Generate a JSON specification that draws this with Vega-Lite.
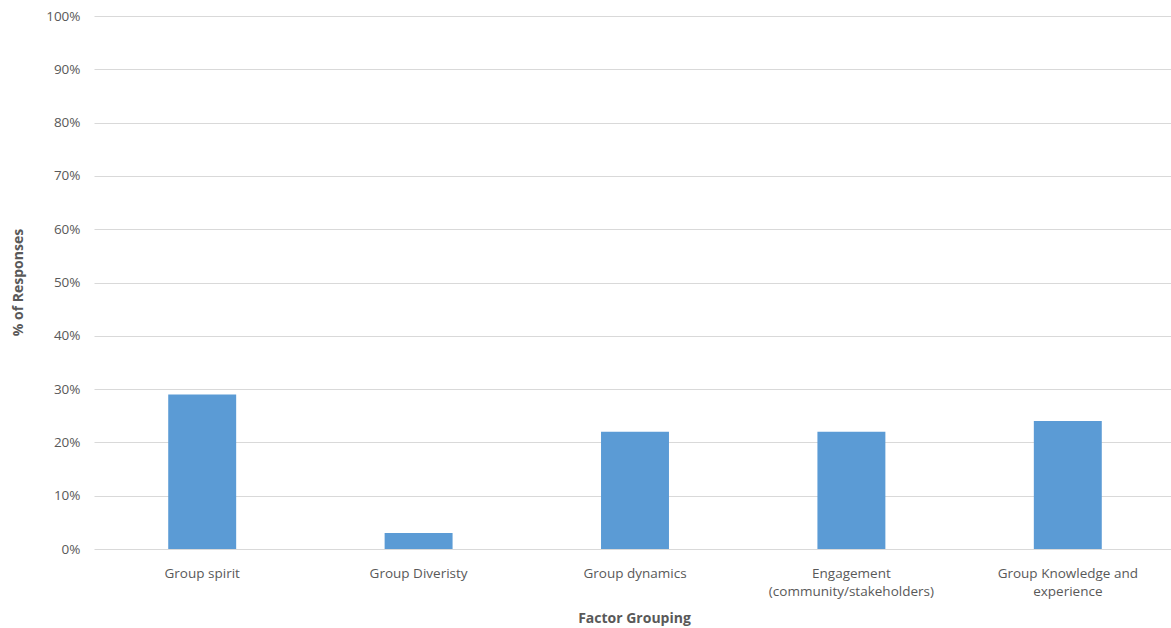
{
  "$schema": "https://vega.github.io/schema/vega-lite/v6.json",
  "autosize": {"type": "none"},
  "width": 1082,
  "height": 533,
  "padding": {"left": 94, "top": 16, "right": 0, "bottom": 79},
  "background": "white",
  "config": {"view": {"stroke": null}, "font": "Open Sans"},
  "data": {
    "values": [
      {"group": "Group spirit", "pct": 0.29},
      {"group": "Group Diveristy", "pct": 0.03},
      {"group": "Group dynamics", "pct": 0.22},
      {"group": "Engagement (community/stakeholders)", "pct": 0.22},
      {"group": "Group Knowledge and experience", "pct": 0.24}
    ]
  },
  "mark": {"type": "bar", "color": "#5b9bd5"},
  "encoding": {
    "x": {
      "field": "group",
      "type": "nominal",
      "sort": null,
      "scale": {"paddingInner": 0.686, "paddingOuter": 0.343},
      "axis": {
        "title": "Factor Grouping",
        "titleFont": "Open Sans",
        "titleFontSize": 14,
        "titleFontWeight": "bold",
        "titleColor": "#595959",
        "titleBaseline": "middle",
        "titleX": 540,
        "titleY": 69,
        "labelAngle": 0,
        "labelFontSize": 13.5,
        "labelColor": "#595959",
        "labelPadding": 17,
        "labelLineHeight": 18,
        "labelLimit": 0,
        "labelOverlap": false,
        "labelExpr": "datum.label == 'Engagement (community/stakeholders)' ? ['Engagement', '(community/stakeholders)'] : datum.label == 'Group Knowledge and experience' ? ['Group Knowledge and', 'experience'] : datum.label",
        "ticks": false,
        "domain": false
      }
    },
    "y": {
      "field": "pct",
      "type": "quantitative",
      "scale": {"domain": [0, 1]},
      "axis": {
        "title": "% of Responses",
        "titleFont": "Open Sans",
        "titleFontSize": 14,
        "titleFontWeight": "bold",
        "titleColor": "#595959",
        "titleX": -76,
        "titleY": 266,
        "titleBaseline": "middle",
        "format": ".0%",
        "values": [0, 0.1, 0.2, 0.3, 0.4, 0.5, 0.6, 0.7, 0.8, 0.9, 1],
        "labelOverlap": false,
        "labelFontSize": 13.5,
        "labelColor": "#595959",
        "labelPadding": 14,
        "gridColor": "#d9d9d9",
        "gridWidth": 1,
        "ticks": false,
        "domain": false
      }
    }
  }
}
